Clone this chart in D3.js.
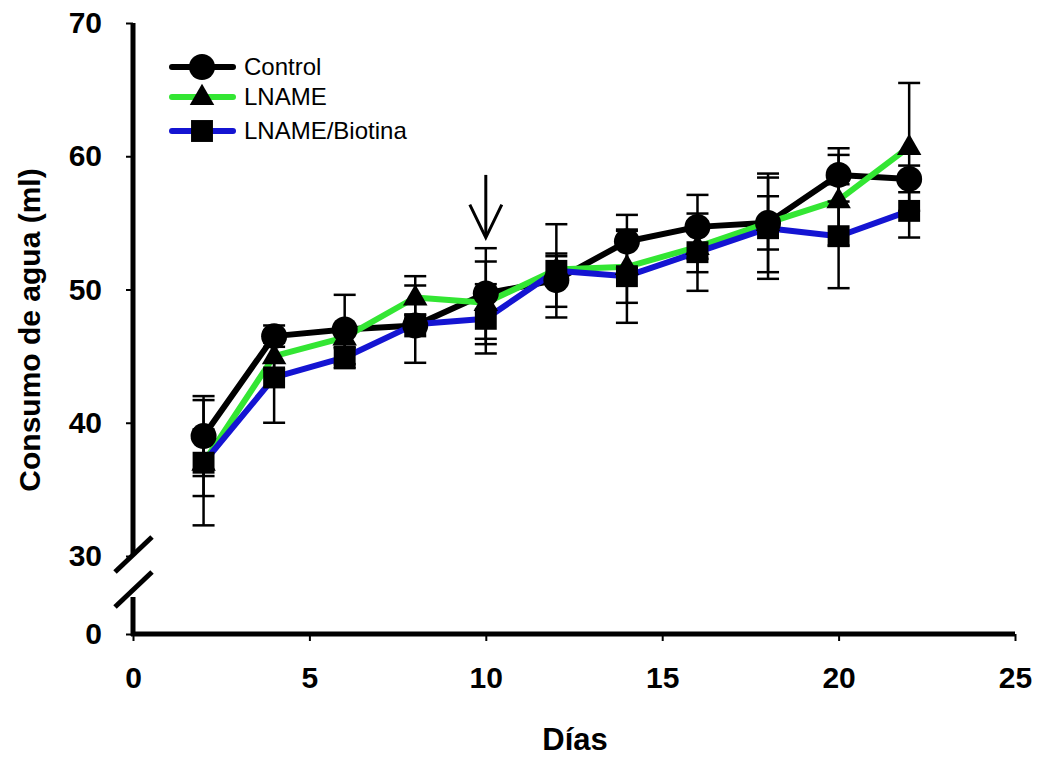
<!DOCTYPE html>
<html>
<head>
<meta charset="utf-8">
<script src="https://cdn.jsdelivr.net/npm/d3@7"></script>
<style>
  html, body { margin: 0; padding: 0; background: #fff; }
  svg { display: block; }
  text { font-family: "Liberation Sans", Arial, sans-serif; }
</style>
</head>
<body>
<svg id="chart" width="1037" height="757"></svg>
<script>
// ---- data ----
const days = [2, 4, 6, 8, 10, 12, 14, 16, 18, 20, 22];
const seriesNames = ["Control", "LNAME", "LNAME/Biotina"];
const controlValues = [39.0, 46.5, 47.0, 47.3, 49.7, 50.7, 53.6, 54.7, 55.0, 58.6, 58.3];
const controlErrors = [3.0, 0.8, 2.6, 0.8, 3.4, 2.0, 2.0, 2.4, 3.7, 2.0, 1.0];
const lnameValues = [37.0, 45.0, 46.4, 49.4, 49.0, 51.5, 51.7, 53.2, 55.0, 56.7, 60.7];
const lnameErrors = [4.7, 1.0, 0.8, 1.6, 3.1, 1.0, 2.7, 1.9, 2.0, 3.4, 4.8];
const biotinaValues = [37.0, 43.4, 44.9, 47.4, 47.8, 51.4, 51.0, 52.8, 54.6, 54.0, 55.9];
const biotinaErrors = [2.5, 3.4, 0.8, 2.9, 2.6, 3.5, 3.5, 2.9, 3.8, 3.9, 2.0];
const xTicks = [0, 5, 10, 15, 20, 25];
const yTicks = [0, 30, 40, 50, 60, 70];
const arrowDay = 10, arrowFrom = 58.6, arrowTo = 53.9;

// ---- layout ----
const svg = d3.select("#chart");
const x = d3.scaleLinear().domain([0, 25]).range([133, 1015]);
const y = d3.scaleLinear().domain([0, 30, 70]).range([634, 556, 23]);

const colors = { "Control": "#000000", "LNAME": "#33e633", "LNAME/Biotina": "#1414d2" };
const symbols = { "Control": d3.symbolCircle, "LNAME": d3.symbolTriangle, "LNAME/Biotina": d3.symbolSquare };
const symSize = { "Control": 530, "LNAME": 260, "LNAME/Biotina": 480 };

const series = [
  { name: "Control", values: controlValues, errors: controlErrors },
  { name: "LNAME", values: lnameValues, errors: lnameErrors },
  { name: "LNAME/Biotina", values: biotinaValues, errors: biotinaErrors }
].map(s => ({ ...s, pts: days.map((d, i) => ({ d, v: s.values[i], e: s.errors[i] })) }));

// ---- axes ----
const xAxis = d3.axisBottom(x).tickValues(xTicks).tickSize(7).tickPadding(26).tickFormat(d3.format("d"));
const gx = svg.append("g").attr("transform", `translate(0,${y(0)})`).call(xAxis);
gx.select(".domain").remove();
gx.selectAll(".tick line").attr("stroke", "#000").attr("stroke-width", 2);
gx.selectAll(".tick text").attr("font-size", 30).attr("font-weight", "bold").attr("fill", "#000")
  .attr("font-family", "Liberation Sans, Arial, sans-serif");
svg.append("line").attr("x1", x(0) - 2).attr("x2", x(25)).attr("y1", y(0)).attr("y2", y(0))
  .attr("stroke", "#000").attr("stroke-width", 5);

const yAxis = d3.axisLeft(y).tickValues(yTicks).tickSize(7).tickPadding(24).tickFormat(d3.format("d"));
const gy = svg.append("g").attr("transform", `translate(${x(0)},0)`).call(yAxis);
gy.select(".domain").remove();
gy.selectAll(".tick line").attr("stroke", "#000").attr("stroke-width", 2);
gy.selectAll(".tick text").attr("font-size", 30).attr("font-weight", "bold").attr("fill", "#000")
  .attr("font-family", "Liberation Sans, Arial, sans-serif");
// y axis line with break
svg.append("line").attr("x1", x(0)).attr("x2", x(0)).attr("y1", y(70)).attr("y2", y(30) - 2)
  .attr("stroke", "#000").attr("stroke-width", 5);
svg.append("line").attr("x1", x(0)).attr("x2", x(0)).attr("y1", y(30) + 41).attr("y2", y(0) + 2)
  .attr("stroke", "#000").attr("stroke-width", 5);
// break slashes
[[572, 537], [607, 572]].forEach(([a, b]) => {
  svg.append("line").attr("x1", x(0) - 18).attr("y1", a).attr("x2", x(0) + 19).attr("y2", b)
    .attr("stroke", "#000").attr("stroke-width", 5);
});

// axis titles
svg.append("text").attr("x", 575).attr("y", 750).attr("text-anchor", "middle")
  .attr("font-size", 31).attr("font-weight", "bold").text("Días");
svg.append("text").attr("transform", "translate(40,330) rotate(-90)").attr("text-anchor", "middle")
  .attr("font-size", 30).attr("font-weight", "bold").text("Consumo de agua (ml)");

// ---- lines ----
const line = d3.line().x(p => x(p.d)).y(p => y(p.v));
series.forEach(s => {
  svg.append("path").datum(s.pts).attr("d", line).attr("fill", "none")
    .attr("stroke", colors[s.name]).attr("stroke-width", 6).attr("stroke-linejoin", "round");
});

// ---- error bars ----
const capW = 11;
series.forEach(s => {
  const g = svg.append("g").attr("stroke", "#000").attr("stroke-width", 2.5);
  s.pts.forEach(p => {
    g.append("line").attr("x1", x(p.d)).attr("x2", x(p.d)).attr("y1", y(p.v + p.e)).attr("y2", y(p.v - p.e));
    [p.v + p.e, p.v - p.e].forEach(v => {
      g.append("line").attr("x1", x(p.d) - capW).attr("x2", x(p.d) + capW).attr("y1", y(v)).attr("y2", y(v));
    });
  });
});

// ---- markers ----
series.forEach(s => {
  const sym = d3.symbol().type(symbols[s.name]).size(symSize[s.name]);
  svg.append("g").selectAll("path").data(s.pts).join("path")
    .attr("d", sym).attr("fill", "#000")
    .attr("transform", p => `translate(${x(p.d)},${y(p.v) + (s.name === "LNAME" ? 1 : 0)})`);
});

// ---- arrow annotation ----
svg.append("line").attr("x1", x(arrowDay)).attr("x2", x(arrowDay)).attr("y1", y(arrowFrom)).attr("y2", y(arrowTo) - 1)
  .attr("stroke", "#000").attr("stroke-width", 3);
svg.append("path")
  .attr("d", `M${x(arrowDay) - 16},${y(arrowTo) - 33} L${x(arrowDay)},${y(arrowTo)} L${x(arrowDay) + 16},${y(arrowTo) - 33}`)
  .attr("fill", "none").attr("stroke", "#000").attr("stroke-width", 3);

// ---- legend ----
const legendY = [67, 97, 131];
series.forEach((s, i) => {
  const g = svg.append("g").attr("transform", `translate(0,${legendY[i]})`);
  g.append("line").attr("x1", 172).attr("x2", 233).attr("y1", 0).attr("y2", 0)
    .attr("stroke", colors[s.name]).attr("stroke-width", 6).attr("stroke-linecap", "round");
  g.append("path").attr("d", d3.symbol().type(symbols[s.name]).size(symSize[s.name])())
    .attr("transform", `translate(202,${s.name === "LNAME" ? 1 : 0})`).attr("fill", "#000");
  g.append("text").attr("x", 244).attr("y", 8).attr("font-size", 24).attr("fill", "#000").text(s.name);
});
</script>
</body>
</html>
